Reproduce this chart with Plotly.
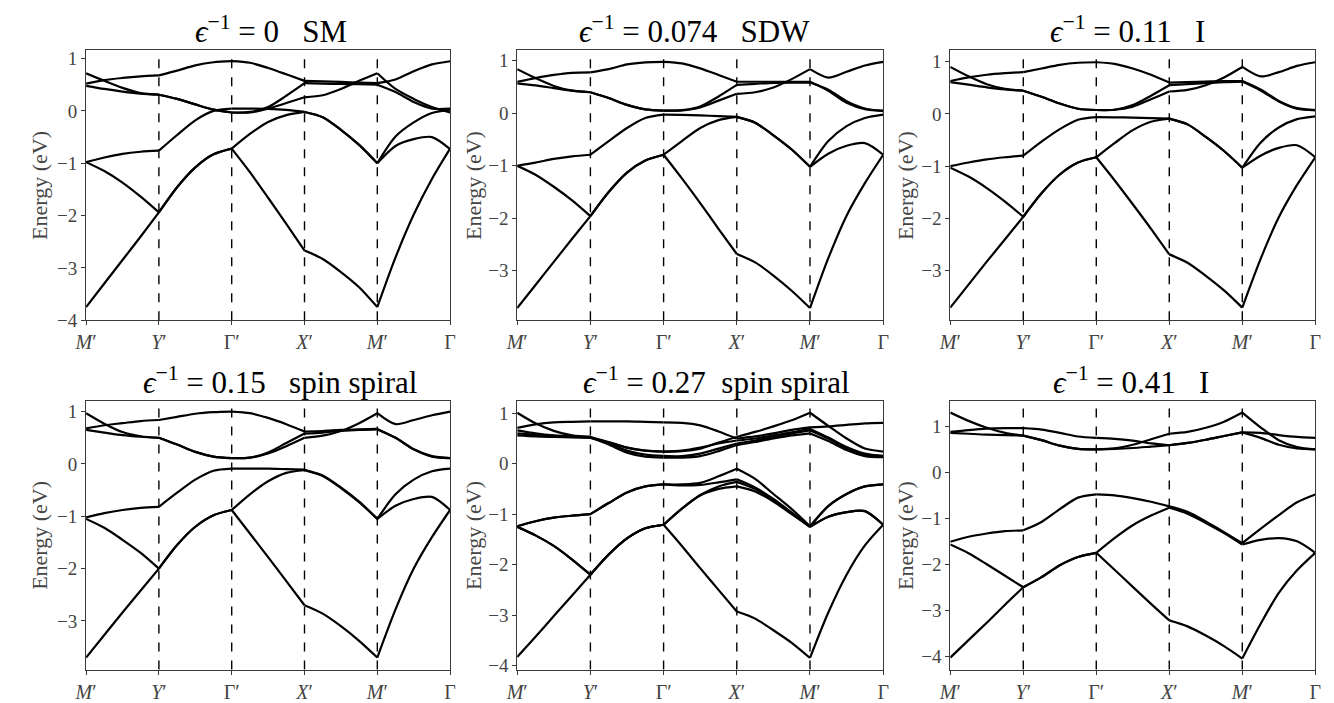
import plotly.graph_objects as go

# k-path sample positions (quarter steps between high-symmetry points)
K_POINTS = [0.0, 0.25, 0.5, 0.75, 1.0, 1.25, 1.5, 1.75, 2.0, 2.25, 2.5, 2.75,
            3.0, 3.25, 3.5, 3.75, 4.0, 4.25, 4.5, 4.75, 5.0]
K_TICKS = [0, 1, 2, 3, 4, 5]
K_LABELS = ["<i>M</i>′", "<i>Y</i>′", "Γ′", "<i>X</i>′", "<i>M</i>′", "Γ"]

TITLES = ["<i>ϵ</i><sup>−1</sup> = 0\u00a0\u00a0\u00a0SM",
          "<i>ϵ</i><sup>−1</sup> = 0.074\u00a0\u00a0\u00a0SDW",
          "<i>ϵ</i><sup>−1</sup> = 0.11\u00a0\u00a0\u00a0I",
          "<i>ϵ</i><sup>−1</sup> = 0.15\u00a0\u00a0\u00a0spin spiral",
          "<i>ϵ</i><sup>−1</sup> = 0.27\u00a0\u00a0spin spiral",
          "<i>ϵ</i><sup>−1</sup> = 0.41\u00a0\u00a0\u00a0I"]

# band energies (eV) at K_POINTS, one list per band
BANDS_SM = [
    [0.52, 0.59, 0.63, 0.66, 0.68, 0.77, 0.87, 0.93, 0.95, 0.92, 0.82, 0.70, 0.575, 0.565, 0.555, 0.54, 0.53, 0.6, 0.76, 0.89, 0.95],
    [0.72, 0.575, 0.44, 0.34, 0.31, 0.23, 0.125, 0.025, -0.03, -0.03, 0.045, 0.15, 0.26, 0.3, 0.42, 0.575, 0.72, 0.42, 0.23, 0.075, -0.03],
    [0.48, 0.42, 0.37, 0.33, 0.31, 0.23, 0.125, 0.025, -0.03, -0.02, 0.075, 0.29, 0.53, 0.52, 0.515, 0.51, 0.5, 0.36, 0.17, 0.045, 0.045],
    [-0.98, -0.89, -0.82, -0.78, -0.76, -0.46, -0.18, 0.0, 0.045, 0.045, 0.04, 0.02, -0.02, -0.12, -0.36, -0.65, -1.0, -0.49, -0.22, -0.04, 0.02],
    [-0.98, -1.15, -1.37, -1.64, -1.94, -1.46, -1.08, -0.83, -0.72, -0.44, -0.21, -0.08, -0.02, -0.12, -0.36, -0.65, -1.0, -0.67, -0.54, -0.5, -0.73],
    [-3.75, -3.3, -2.85, -2.4, -1.94, -1.46, -1.08, -0.83, -0.72, -1.17, -1.66, -2.16, -2.67, -2.83, -3.08, -3.37, -3.75, -2.8, -1.98, -1.3, -0.72],
]
BANDS_SDW = [
    [0.6, 0.67, 0.73, 0.77, 0.78, 0.84, 0.93, 0.97, 0.98, 0.95, 0.855, 0.73, 0.6, 0.6, 0.6, 0.6, 0.6, 0.43, 0.2, 0.08, 0.05],
    [0.84, 0.67, 0.52, 0.43, 0.4, 0.29, 0.16, 0.075, 0.05, 0.055, 0.11, 0.24, 0.37, 0.4, 0.49, 0.65, 0.84, 0.68, 0.79, 0.91, 0.98],
    [0.57, 0.53, 0.48, 0.43, 0.4, 0.29, 0.16, 0.075, 0.05, 0.06, 0.13, 0.32, 0.54, 0.56, 0.58, 0.585, 0.585, 0.45, 0.23, 0.09, 0.04],
    [-1.0, -0.94, -0.87, -0.82, -0.79, -0.53, -0.28, -0.09, -0.025, -0.03, -0.04, -0.055, -0.07, -0.18, -0.42, -0.69, -1.02, -0.53, -0.245, -0.09, -0.025],
    [-1.0, -1.17, -1.4, -1.66, -1.96, -1.5, -1.13, -0.9, -0.79, -0.53, -0.28, -0.13, -0.07, -0.18, -0.42, -0.69, -1.02, -0.77, -0.62, -0.57, -0.79],
    [-3.71, -3.27, -2.83, -2.39, -1.96, -1.5, -1.13, -0.9, -0.79, -1.24, -1.71, -2.2, -2.68, -2.84, -3.09, -3.38, -3.71, -2.76, -1.95, -1.33, -0.79],
]
BANDS_I1 = [
    [0.63, 0.7, 0.75, 0.78, 0.8, 0.87, 0.94, 0.98, 0.99, 0.96, 0.87, 0.75, 0.6, 0.61, 0.62, 0.63, 0.63, 0.47, 0.25, 0.11, 0.075],
    [0.9, 0.72, 0.57, 0.48, 0.445, 0.33, 0.2, 0.1, 0.075, 0.08, 0.14, 0.28, 0.43, 0.46, 0.55, 0.7, 0.9, 0.72, 0.8, 0.92, 0.99],
    [0.61, 0.56, 0.51, 0.47, 0.445, 0.33, 0.2, 0.1, 0.075, 0.08, 0.17, 0.35, 0.55, 0.57, 0.59, 0.61, 0.62, 0.45, 0.24, 0.1, 0.07],
    [-1.0, -0.93, -0.87, -0.83, -0.8, -0.53, -0.29, -0.11, -0.06, -0.065, -0.07, -0.08, -0.09, -0.2, -0.44, -0.71, -1.03, -0.55, -0.26, -0.1, -0.045],
    [-1.03, -1.2, -1.42, -1.68, -1.97, -1.52, -1.16, -0.93, -0.83, -0.56, -0.31, -0.15, -0.09, -0.2, -0.44, -0.71, -1.03, -0.8, -0.65, -0.6, -0.83],
    [-3.71, -3.27, -2.83, -2.4, -1.97, -1.52, -1.16, -0.93, -0.83, -1.27, -1.73, -2.2, -2.69, -2.85, -3.1, -3.38, -3.71, -2.78, -1.98, -1.36, -0.83],
]
BANDS_SS1 = [
    [0.68, 0.74, 0.78, 0.82, 0.84, 0.9, 0.96, 0.99, 1.0, 0.97, 0.88, 0.76, 0.62, 0.63, 0.65, 0.66, 0.67, 0.5, 0.28, 0.15, 0.11],
    [0.97, 0.77, 0.61, 0.53, 0.5, 0.37, 0.23, 0.14, 0.11, 0.12, 0.2, 0.34, 0.5, 0.54, 0.63, 0.78, 0.97, 0.76, 0.84, 0.93, 1.0],
    [0.65, 0.6, 0.55, 0.52, 0.5, 0.37, 0.23, 0.14, 0.11, 0.12, 0.22, 0.4, 0.58, 0.6, 0.63, 0.65, 0.66, 0.5, 0.28, 0.14, 0.11],
    [-1.02, -0.94, -0.88, -0.84, -0.82, -0.55, -0.3, -0.13, -0.09, -0.09, -0.09, -0.1, -0.11, -0.22, -0.45, -0.72, -1.05, -0.58, -0.3, -0.14, -0.09],
    [-1.05, -1.22, -1.45, -1.7, -2.0, -1.55, -1.2, -0.98, -0.88, -0.58, -0.33, -0.17, -0.12, -0.23, -0.46, -0.73, -1.05, -0.8, -0.67, -0.63, -0.88],
    [-3.7, -3.27, -2.84, -2.42, -2.0, -1.55, -1.2, -0.98, -0.88, -1.33, -1.78, -2.24, -2.7, -2.86, -3.1, -3.38, -3.7, -2.78, -2.0, -1.4, -0.88],
]
BANDS_SS2 = [
    [0.71, 0.78, 0.82, 0.83, 0.84, 0.84, 0.84, 0.83, 0.82, 0.81, 0.76, 0.64, 0.5, 0.54, 0.6, 0.67, 0.72, 0.74, 0.77, 0.8, 0.81],
    [1.01, 0.8, 0.65, 0.56, 0.53, 0.43, 0.32, 0.26, 0.24, 0.25, 0.3, 0.42, 0.53, 0.63, 0.74, 0.86, 1.01, 0.75, 0.5, 0.3, 0.24],
    [0.66, 0.6, 0.56, 0.54, 0.53, 0.4, 0.26, 0.18, 0.155, 0.15, 0.2, 0.3, 0.4, 0.46, 0.53, 0.6, 0.66, 0.5, 0.3, 0.18, 0.155],
    [0.6, 0.57, 0.54, 0.53, 0.52, 0.38, 0.22, 0.14, 0.12, 0.12, 0.15, 0.25, 0.37, 0.43, 0.5, 0.56, 0.6, 0.45, 0.27, 0.15, 0.13],
    [0.56, 0.54, 0.53, 0.52, 0.51, 0.42, 0.32, 0.26, 0.24, 0.26, 0.32, 0.4, 0.46, 0.5, 0.56, 0.62, 0.69, 0.52, 0.33, 0.2, 0.15],
    [-1.24, -1.14, -1.07, -1.03, -1.0, -0.78, -0.57, -0.45, -0.41, -0.41, -0.38, -0.25, -0.1, -0.3, -0.6, -0.9, -1.24, -0.84, -0.6, -0.45, -0.41],
    [-1.24, -1.14, -1.07, -1.03, -1.0, -0.78, -0.57, -0.45, -0.41, -0.43, -0.42, -0.37, -0.31, -0.47, -0.7, -0.97, -1.25, -0.84, -0.6, -0.45, -0.41],
    [-1.25, -1.42, -1.63, -1.9, -2.2, -1.8, -1.48, -1.28, -1.21, -0.89, -0.63, -0.5, -0.45, -0.55, -0.75, -1.0, -1.25, -1.05, -0.96, -0.94, -1.21],
    [-1.25, -1.42, -1.63, -1.9, -2.2, -1.8, -1.48, -1.28, -1.21, -0.89, -0.62, -0.45, -0.36, -0.5, -0.72, -0.98, -1.25, -1.05, -0.96, -0.94, -1.21],
    [-3.83, -3.43, -3.02, -2.61, -2.2, -1.8, -1.48, -1.28, -1.21, -1.63, -2.07, -2.5, -2.93, -3.07, -3.3, -3.55, -3.85, -2.95, -2.2, -1.62, -1.21],
]
BANDS_I2 = [
    [1.3, 1.12, 0.97, 0.86, 0.8, 0.7, 0.58, 0.51, 0.5, 0.52, 0.6, 0.72, 0.84, 0.88, 0.97, 1.1, 1.3, 0.98, 0.7, 0.55, 0.5],
    [0.88, 0.92, 0.95, 0.96, 0.96, 0.93, 0.86, 0.78, 0.75, 0.73, 0.69, 0.63, 0.59, 0.64, 0.71, 0.79, 0.87, 0.86, 0.81, 0.77, 0.75],
    [0.86, 0.84, 0.82, 0.81, 0.8, 0.7, 0.58, 0.51, 0.5, 0.51, 0.53, 0.56, 0.59, 0.64, 0.71, 0.79, 0.87, 0.75, 0.6, 0.52, 0.5],
    [-1.51, -1.4, -1.33, -1.28, -1.26, -1.08, -0.8, -0.55, -0.48, -0.5, -0.56, -0.64, -0.74, -0.86, -1.07, -1.3, -1.54, -1.23, -0.93, -0.65, -0.48],
    [-1.57, -1.76, -2.0, -2.25, -2.5, -2.28, -2.02, -1.84, -1.75, -1.43, -1.15, -0.94, -0.77, -0.9, -1.1, -1.32, -1.57, -1.47, -1.43, -1.5, -1.75],
    [-4.03, -3.65, -3.27, -2.88, -2.5, -2.28, -2.02, -1.84, -1.75, -2.12, -2.49, -2.86, -3.22, -3.35, -3.55, -3.78, -4.05, -3.3, -2.62, -2.13, -1.75],
]

PANELS = [BANDS_SM, BANDS_SDW, BANDS_I1, BANDS_SS1, BANDS_SS2, BANDS_I2]
Y_RANGES = [[-4.0, 1.16], [-3.94, 1.2], [-3.95, 1.22], [-3.93, 1.21], [-4.08, 1.25], [-4.29, 1.56]]
Y_TICKS = [[-4, -3, -2, -1, 0, 1], [-3, -2, -1, 0, 1], [-3, -2, -1, 0, 1],
           [-3, -2, -1, 0, 1], [-4, -3, -2, -1, 0, 1], [-4, -3, -2, -1, 0, 1]]

# layout (pixel-derived)
W, H = 1334, 703
COL_PX = [(67, 436), (504, 875), (943, 1313)]
ROW_PX = [(41, 316), (398, 672)]
TITLE_CX = [254, 684, 1123, 264, 706, 1126]
TITLE_CY = [20, 377]
YLABEL_X = [19, 459, 897]

FONT = "Liberation Serif"
fig = go.Figure()
layout = dict(width=W, height=H, margin=dict(l=0, r=0, t=0, b=0),
              paper_bgcolor="white", plot_bgcolor="white", showlegend=False,
              font=dict(family=FONT, color="#444"))
shapes, annotations = [], []

for p, bands in enumerate(PANELS):
    n = p + 1
    r, c = divmod(p, 3)
    xs_name = "x" if n == 1 else f"x{n}"
    ys_name = "y" if n == 1 else f"y{n}"
    for band in bands:
        xs, ys = [], []
        for s in range(5):
            xs += K_POINTS[4 * s:4 * s + 5] + [None]
            ys += band[4 * s:4 * s + 5] + [None]
        fig.add_trace(go.Scatter(x=xs, y=ys, mode="lines", xaxis=xs_name, yaxis=ys_name,
                                 line=dict(color="black", width=2.2, shape="spline", smoothing=0.8),
                                 hoverinfo="skip", connectgaps=False))
    x0, x1 = COL_PX[c]
    y0, y1 = ROW_PX[r]
    axcommon = dict(showline=True, mirror=True, linecolor="#3a3a3a", linewidth=1,
                    ticks="outside", ticklen=4, tickcolor="#3a3a3a", showgrid=False,
                    zeroline=False)
    layout["xaxis" if n == 1 else f"xaxis{n}"] = dict(
        domain=[x0 / W, x1 / W], range=[0, 5], anchor=ys_name,
        tickvals=K_TICKS, ticktext=K_LABELS, tickfont=dict(size=20, color="#444", family=FONT),
        **axcommon)
    layout["yaxis" if n == 1 else f"yaxis{n}"] = dict(
        domain=[1 - y1 / H, 1 - y0 / H], range=Y_RANGES[p], anchor=xs_name,
        tickvals=Y_TICKS[p], tickfont=dict(size=19, color="#444", family=FONT),
        **axcommon)
    for kx in K_TICKS[1:-1]:
        shapes.append(dict(type="line", xref=xs_name, yref=f"{ys_name} domain",
                           x0=kx, x1=kx, y0=0, y1=1,
                           line=dict(color="black", width=1.4, dash="dash")))
    annotations.append(dict(text=TITLES[p], xref="paper", yref="paper",
                            x=TITLE_CX[p] / W, y=1 - TITLE_CY[r] / H,
                            xanchor="center", yanchor="middle", showarrow=False,
                            font=dict(size=31, color="black", family=FONT)))
    annotations.append(dict(text="Energy (eV)", xref="paper", yref="paper",
                            x=YLABEL_X[c] / W, y=1 - (y0 + y1) / 2 / H,
                            xanchor="center", yanchor="middle", textangle=-90,
                            showarrow=False, font=dict(size=22, color="#444", family=FONT)))

layout["shapes"] = shapes
layout["annotations"] = annotations
fig.update_layout(**layout)
fig.write_html("out.html")
